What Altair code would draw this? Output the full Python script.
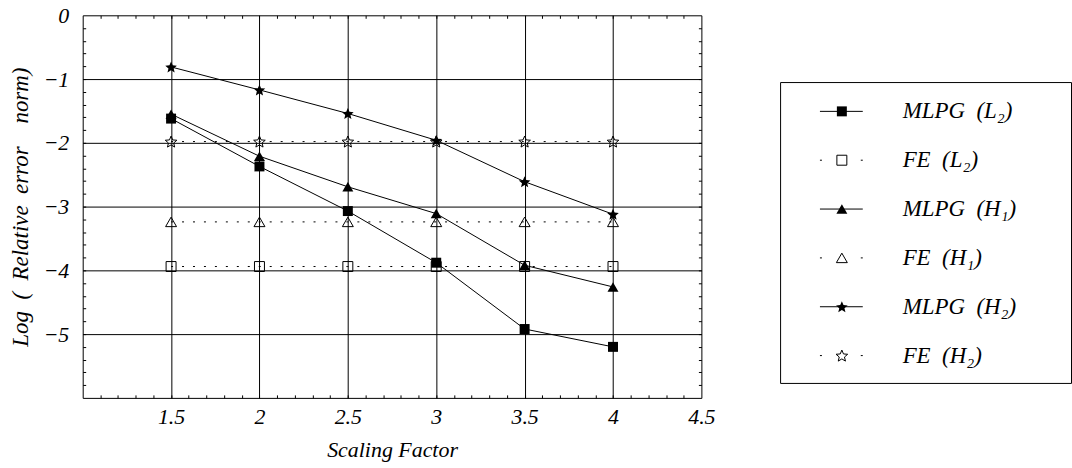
import altair as alt
import pandas as pd

# ---------------- data ----------------
scaling = [1.5, 2.0, 2.5, 3.0, 3.5, 4.0]
mlpg_l2 = [-1.62, -2.37, -3.07, -3.88, -4.92, -5.20]
fe_l2 = [-3.94, -3.94, -3.94, -3.94, -3.94, -3.94]
mlpg_h1 = [-1.55, -2.21, -2.69, -3.11, -3.92, -4.26]
fe_h1 = [-3.24, -3.24, -3.24, -3.24, -3.24, -3.24]
mlpg_h2 = [-0.81, -1.17, -1.54, -1.96, -2.61, -3.12]
fe_h2 = [-1.98, -1.98, -1.98, -1.98, -1.98, -1.98]

series_keys = ["MLPG_L2", "FE_L2", "MLPG_H1", "FE_H1", "MLPG_H2", "FE_H2"]
series_methods = ["MLPG", "FE", "MLPG", "FE", "MLPG", "FE"]
legend_labels = [
    "MLPG\u2002(L\u2082)",
    "FE\u2002(L\u2082)",
    "MLPG\u2002(H\u2081)",
    "FE\u2002(H\u2081)",
    "MLPG\u2002(H\u2082)",
    "FE\u2002(H\u2082)",
]
x_tick_labels = [1.5, 2, 2.5, 3, 3.5, 4, 4.5]
y_tick_labels = [0, -1, -2, -3, -4, -5]
x_grid_values = [1.5, 2, 2.5, 3, 3.5, 4]
y_grid_values = [-1, -2, -3, -4, -5]
x_minor_values = [round(1.0 + 0.1 * i, 1) for i in range(1, 35)]
y_minor_values = [round(-6.0 + 0.2 * i, 1) for i in range(1, 30)]

x_title = "Scaling Factor"
y_title = "Log\u2002(\u2002Relative\u2002error\u2003norm)"

# ---------------- styles ----------------
STAR = ("M0,-0.905 L0.265,-0.268 L0.951,-0.214 L0.428,0.235 L0.588,0.905 "
        "L0,0.546 L-0.588,0.905 L-0.428,0.235 L-0.951,-0.214 L-0.265,-0.268 Z")
marker_shapes = ["square", "square", "triangle-up", "triangle-up", STAR, STAR]
marker_sizes = [100, 100, 121, 121, 150, 150]
marker_filled = [True, False, True, False, True, False]
FONT = "Liberation Serif, Times New Roman, Times, serif"
FS = 22
DOT = [2, 9]

values_by_series = [mlpg_l2, fe_l2, mlpg_h1, fe_h1, mlpg_h2, fe_h2]
rows = []
for key, method, vals in zip(series_keys, series_methods, values_by_series):
    for xv, yv in zip(scaling, vals):
        rows.append({"x": xv, "value": yv, "series": key, "method": method})
df = pd.DataFrame(rows)

x_scale = alt.Scale(domain=[1.0, 4.5], nice=False, zero=False)
y_scale = alt.Scale(domain=[-6.0, 0.0], nice=False, zero=False)

base = alt.Chart(df)


def axis_layer(x_axis, y_axis):
    return base.mark_point(opacity=0).encode(
        x=alt.X("x:Q", scale=x_scale, axis=x_axis),
        y=alt.Y("value:Q", scale=y_scale, axis=y_axis),
    )


grid_layer = axis_layer(
    alt.Axis(orient="bottom", values=x_grid_values, grid=True, gridColor="black",
             gridWidth=1, gridOpacity=1, ticks=False, labels=False, domain=False, title=None),
    alt.Axis(orient="left", values=y_grid_values, grid=True, gridColor="black",
             gridWidth=1, gridOpacity=1, ticks=False, labels=False, domain=False, title=None),
)

label_layer = axis_layer(
    alt.Axis(orient="bottom", values=x_tick_labels, format="~g", grid=False, ticks=False,
             tickSize=0, domain=False, labelPadding=9, labelFlush=False, labelOverlap=False,
             labelFont=FONT, labelFontSize=FS, labelFontStyle="italic", labelColor="black",
             title=x_title, titleFont=FONT, titleFontSize=FS, titleFontStyle="italic",
             titleFontWeight="normal", titleColor="black", titlePadding=12),
    alt.Axis(orient="left", values=y_tick_labels, format="~g", grid=False, ticks=False,
             tickSize=0, domain=False, labelPadding=14, labelFlush=False, labelOverlap=False,
             labelFont=FONT, labelFontSize=FS, labelFontStyle="italic", labelColor="black",
             title=y_title, titleFont=FONT, titleFontSize=23, titleFontStyle="italic",
             titleFontWeight="normal", titleColor="black", titlePadding=11),
)


def minor_axis(orient, values):
    return alt.Axis(orient=orient, values=values, grid=False, ticks=True, tickSize=3,
                    tickColor="black", tickWidth=1, offset=-3, labels=False,
                    domain=False, title=None)


minor_bl = axis_layer(minor_axis("bottom", x_minor_values), minor_axis("left", y_minor_values))
minor_tr = axis_layer(minor_axis("top", x_minor_values), minor_axis("right", y_minor_values))

xd = alt.X("x:Q", scale=x_scale, axis=None)
yd = alt.Y("value:Q", scale=y_scale, axis=None)

fe_lines = base.transform_filter(alt.datum.method == "FE").mark_line(
    color="black", strokeWidth=1, strokeDash=DOT).encode(x=xd, y=yd, detail="series:N")
mlpg_lines = base.transform_filter(alt.datum.method == "MLPG").mark_line(
    color="black", strokeWidth=1).encode(x=xd, y=yd, detail="series:N")


def marker(chart, key, shape, size, filled, x_enc, y_enc):
    return chart.transform_filter(alt.datum.series == key).mark_point(
        shape=shape, size=size, filled=filled, color="black", strokeWidth=1, opacity=1,
    ).encode(x=x_enc, y=y_enc)


open_layers = [marker(base, k, s, z, f, xd, yd)
               for k, s, z, f in zip(series_keys, marker_shapes, marker_sizes, marker_filled) if not f]
filled_layers = [marker(base, k, s, z, f, xd, yd)
                 for k, s, z, f in zip(series_keys, marker_shapes, marker_sizes, marker_filled) if f]

main = alt.layer(
    grid_layer, label_layer, minor_bl, minor_tr,
    fe_lines, mlpg_lines, *open_layers, *filled_layers,
).resolve_axis(x="independent", y="independent").properties(width=621, height=384)

# ---------------- legend ----------------
leg_df = pd.DataFrame({
    "row": list(range(len(series_keys))),
    "series": series_keys,
    "method": series_methods,
    "label": legend_labels,
})
leg = alt.Chart(leg_df)
ly = alt.Y("row:Q", scale=alt.Scale(domain=[-0.6, 5.56], reverse=True, nice=False, zero=False),
           axis=None)

leg_solid = leg.transform_filter(alt.datum.method == "MLPG").mark_rule(
    color="black", strokeWidth=1).encode(x=alt.value(40), x2=alt.value(83), y=ly)
leg_dot = leg.transform_filter(alt.datum.method == "FE").mark_rule(
    color="black", strokeWidth=1, strokeDash=[2, 39]).encode(x=alt.value(40), x2=alt.value(83), y=ly)
leg_markers = [marker(leg, k, s, z, f, alt.value(62), ly)
               for k, s, z, f in zip(series_keys, marker_shapes, marker_sizes, marker_filled)]
leg_text = leg.mark_text(align="left", baseline="middle", font=FONT, fontSize=23,
                         fontStyle="italic", color="black").encode(
    x=alt.value(123), y=ly, text="label:N")

legend = alt.layer(leg_solid, leg_dot, *leg_markers, leg_text).properties(
    width=292, height=302)

spacer = alt.Chart(leg_df).mark_point(opacity=0).encode(
    x=alt.value(0), y=alt.value(0)
).properties(width=292, height=65, view=alt.ViewBackground(stroke="transparent"))

legend_col = alt.vconcat(spacer, legend, spacing=0)

chart = alt.hconcat(main, legend_col, spacing=60).configure(
    padding={"left": 8, "top": 2.5, "right": 0, "bottom": 0},
    font=FONT,
).configure_view(stroke="black", strokeWidth=1)

chart.save("out.html", embed_options={"renderer": "svg", "actions": False})
